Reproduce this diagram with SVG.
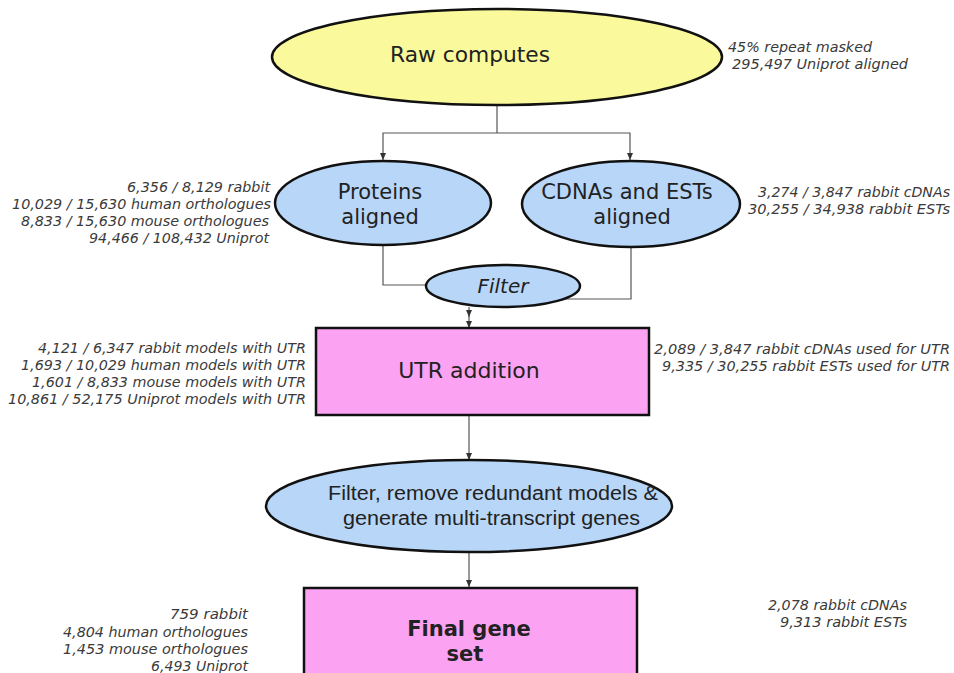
<svg xmlns="http://www.w3.org/2000/svg" width="954" height="673" viewBox="0 0 954 673">
<style>
.node{stroke:#111;stroke-width:2.5}
.yellow{fill:#fafa9c}
.blue{fill:#b8d6f8}
.pink{fill:#fca2f2}
.lbl{font-family:"DejaVu Sans",sans-serif;font-size:21px;fill:#222;text-anchor:middle}
.side{font-family:"DejaVu Sans",sans-serif;font-style:italic;font-size:14px;fill:#3a3a3a}
.end{text-anchor:end}
.conn{fill:none;stroke:#555;stroke-width:1.2}
</style>
<defs>
<marker id="arr" markerWidth="8" markerHeight="8" refX="7" refY="4" orient="auto" markerUnits="userSpaceOnUse">
<path d="M0,1 L7,4 L0,7 z" fill="#333"/>
</marker>
</defs>
<rect width="954" height="673" fill="#fff"/>
<g id="connectors">
<path class="conn" d="M497,105 V133"/>
<path class="conn" d="M497,133 H383 V160" marker-end="url(#arr)"/>
<path class="conn" d="M497,133 H630 V160" marker-end="url(#arr)"/>
<path class="conn" d="M383,245 V285 H427"/>
<path class="conn" d="M631,247 V299 H565"/>
<path class="conn" d="M469,307 V317" marker-end="url(#arr)"/>
<path class="conn" d="M469,315 V328" marker-end="url(#arr)"/>
<path class="conn" d="M469,415 V460" marker-end="url(#arr)"/>
<path class="conn" d="M469,553 V587" marker-end="url(#arr)"/>
</g>
<g id="raw">
<ellipse class="node yellow" cx="497" cy="57" rx="225" ry="48"/>
<text class="lbl" x="470" y="62" textLength="160" lengthAdjust="spacingAndGlyphs">Raw computes</text>
<text class="side" x="728" y="52" textLength="144" lengthAdjust="spacingAndGlyphs">45% repeat masked</text>
<text class="side" x="732" y="69" textLength="176" lengthAdjust="spacingAndGlyphs">295,497 Uniprot aligned</text>
</g>
<g id="proteins">
<ellipse class="node blue" cx="383" cy="203" rx="108" ry="42"/>
<text class="lbl" x="380" y="199">Proteins</text>
<text class="lbl" x="380" y="224">aligned</text>
<text class="side end" x="270" y="192" textLength="143" lengthAdjust="spacingAndGlyphs">6,356 / 8,129 rabbit</text>
<text class="side end" x="271" y="209" textLength="259" lengthAdjust="spacingAndGlyphs">10,029 / 15,630 human orthologues</text>
<text class="side end" x="269" y="226" textLength="248" lengthAdjust="spacingAndGlyphs">8,833 / 15,630 mouse orthologues</text>
<text class="side end" x="269" y="243" textLength="180" lengthAdjust="spacingAndGlyphs">94,466 / 108,432 Uniprot</text>
</g>
<g id="cdnas">
<ellipse class="node blue" cx="631" cy="204" rx="109" ry="43"/>
<text class="lbl" x="627" y="199">CDNAs and ESTs</text>
<text class="lbl" x="632" y="224">aligned</text>
<text class="side end" x="950" y="197" textLength="192" lengthAdjust="spacingAndGlyphs">3,274 / 3,847 rabbit cDNAs</text>
<text class="side end" x="950" y="214" textLength="202" lengthAdjust="spacingAndGlyphs">30,255 / 34,938 rabbit ESTs</text>
</g>
<g id="filter">
<ellipse class="node blue" cx="503" cy="286" rx="77" ry="21"/>
<text class="lbl" x="503" y="293" font-style="italic" style="font-size:20px">Filter</text>
</g>
<g id="utr">
<rect class="node pink" x="316" y="328" width="333" height="87"/>
<text class="lbl" x="469" y="378" style="font-size:22px">UTR addition</text>
<text class="side end" x="306" y="353" textLength="268" lengthAdjust="spacingAndGlyphs">4,121 / 6,347 rabbit models with UTR</text>
<text class="side end" x="306" y="370" textLength="285" lengthAdjust="spacingAndGlyphs">1,693 / 10,029 human models with UTR</text>
<text class="side end" x="306" y="387" textLength="274" lengthAdjust="spacingAndGlyphs">1,601 / 8,833 mouse models with UTR</text>
<text class="side end" x="306" y="404" textLength="298" lengthAdjust="spacingAndGlyphs">10,861 / 52,175 Uniprot models with UTR</text>
<text class="side end" x="950" y="354" textLength="296" lengthAdjust="spacingAndGlyphs">2,089 / 3,847 rabbit cDNAs used for UTR</text>
<text class="side end" x="950" y="371" textLength="288" lengthAdjust="spacingAndGlyphs">9,335 / 30,255 rabbit ESTs used for UTR</text>
</g>
<g id="redundant">
<ellipse class="node blue" cx="469" cy="506" rx="203" ry="46"/>
<text x="328" y="500" font-family="Liberation Sans, Arial, sans-serif" font-size="20" fill="#222" textLength="330" lengthAdjust="spacingAndGlyphs">Filter, remove redundant models &amp;</text>
<text x="343" y="525" font-family="Liberation Sans, Arial, sans-serif" font-size="20" fill="#222" textLength="297" lengthAdjust="spacingAndGlyphs">generate multi-transcript genes</text>
</g>
<g id="final">
<rect class="node pink" x="304" y="588" width="333" height="100"/>
<text class="lbl" x="469" y="636" font-weight="bold" style="font-size:21px">Final gene</text>
<text class="lbl" x="465" y="661" font-weight="bold" style="font-size:21px">set</text>
<text class="side end" x="248" y="619" textLength="78" lengthAdjust="spacingAndGlyphs">759 rabbit</text>
<text class="side end" x="248" y="637" textLength="185" lengthAdjust="spacingAndGlyphs">4,804 human orthologues</text>
<text class="side end" x="248" y="654" textLength="185" lengthAdjust="spacingAndGlyphs">1,453 mouse orthologues</text>
<text class="side end" x="248" y="671" textLength="97" lengthAdjust="spacingAndGlyphs">6,493 Uniprot</text>
<text class="side end" x="907" y="610" textLength="139" lengthAdjust="spacingAndGlyphs">2,078 rabbit cDNAs</text>
<text class="side end" x="907" y="627" textLength="127" lengthAdjust="spacingAndGlyphs">9,313 rabbit ESTs</text>
</g>
</svg>
